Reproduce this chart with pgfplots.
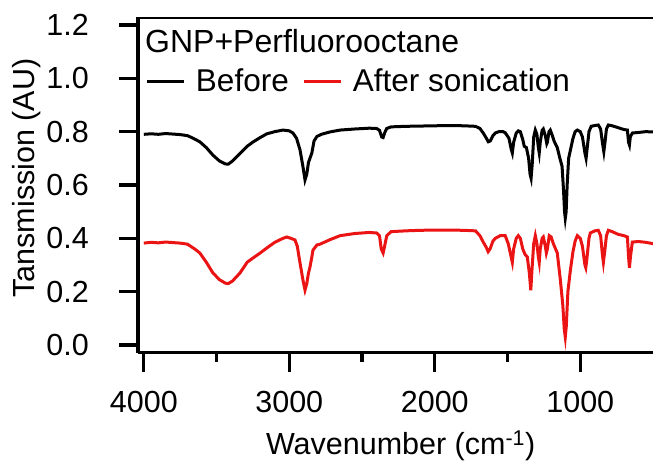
\documentclass[border=0pt]{standalone}
\usepackage{fontspec}
\setmainfont{Liberation Sans}
\usepackage{pgfplots}
\pgfplotsset{compat=1.18}
\definecolor{spred}{RGB}{235,20,20}
\begin{document}
\fontsize{30.5}{36}\selectfont
\begin{tikzpicture}
\begin{axis}[
  at={(138pt,-352.7pt)}, anchor=south west,
  scale only axis, width=515pt, height=335.7pt,
  x dir=reverse, xmin=500, xmax=4040, ymin=-0.029, ymax=1.23,
  axis lines*=left, axis line style={-, line width=3.3pt},
  tick align=outside, tick pos=left,
  xtick={1000,2000,3000,4000}, minor x tick num=1,
  ytick={0,0.2,0.4,0.6,0.8,1.0,1.2},
  major tick length=19pt, minor tick length=9pt,
  major tick style={line width=3.3pt, black},
  minor tick style={line width=3.3pt, black},
  /pgf/number format/assume math mode=true,
  x tick label style={/pgf/number format/set thousands separator={}, anchor=base, inner sep=0pt, yshift=-41pt},
  y tick label style={/pgf/number format/fixed, /pgf/number format/fixed zerofill, /pgf/number format/precision=1, anchor=east, inner sep=0pt, xshift=-30pt},
  xlabel={Wavenumber (cm\textsuperscript{-1})},
  ylabel={Tansmission (AU)},
  xlabel style={at={(axis description cs:0.51,-0.3047)}, anchor=base, inner sep=0pt},
  ylabel style={at={(axis description cs:-0.2,0.52)}, anchor=base, inner sep=0pt},
  legend columns=2,
  legend style={draw=none, fill=none, at={(axis description cs:0.0155,0.8064)}, anchor=west, inner sep=0pt, outer sep=0pt, nodes={inner sep=0pt}, font=\fontsize{31.5}{38}\selectfont,
    /tikz/every odd column/.append style={column sep=10pt},
    /tikz/every even column/.append style={column sep=14pt}},
  legend image code/.code={\draw[#1, line width=3pt] (0pt,0pt) -- (37pt,0pt);},
]
\addplot[black, line width=3pt] coordinates {
(4000,0.790) (3950,0.792) (3900,0.790) (3850,0.793) (3800,0.791) (3750,0.789) (3700,0.785) (3660,0.775) (3615,0.762) (3570,0.740) (3525,0.712) (3480,0.690) (3440,0.679) (3420,0.678) (3390,0.690) (3339,0.718) (3290,0.745) (3250,0.761) (3200,0.778) (3154,0.792) (3100,0.800) (3043,0.806) (3000,0.803) (2975,0.795) (2950,0.775) (2926,0.731) (2905,0.665) (2892,0.619) (2880,0.640) (2868,0.685) (2858,0.700) (2845,0.720) (2830,0.765) (2810,0.782) (2780,0.790) (2720,0.799) (2650,0.806) (2550,0.810) (2450,0.813) (2400,0.812) (2380,0.805) (2365,0.780) (2355,0.778) (2345,0.795) (2330,0.812) (2300,0.818) (2200,0.820) (2100,0.821) (2000,0.822) (1900,0.823) (1800,0.822) (1720,0.820) (1690,0.812) (1667,0.795) (1645,0.775) (1632,0.762) (1619,0.765) (1600,0.785) (1584,0.795) (1560,0.800) (1530,0.800) (1516,0.796) (1490,0.775) (1475,0.735) (1467,0.720) (1458,0.760) (1440,0.795) (1426,0.803) (1412,0.800) (1395,0.770) (1385,0.745) (1370,0.740) (1355,0.700) (1345,0.640) (1338,0.625) (1330,0.680) (1320,0.780) (1309,0.806) (1298,0.790) (1288,0.740) (1282,0.720) (1275,0.760) (1262,0.805) (1254,0.810) (1240,0.785) (1230,0.755) (1226,0.760) (1215,0.800) (1206,0.806) (1195,0.790) (1180,0.765) (1158,0.740) (1140,0.700) (1125,0.670) (1115,0.580) (1108,0.500) (1103,0.475) (1097,0.500) (1090,0.600) (1080,0.700) (1068,0.730) (1050,0.775) (1035,0.800) (1020,0.806) (1000,0.800) (985,0.780) (968,0.720) (960,0.700) (952,0.740) (940,0.800) (925,0.820) (900,0.823) (876,0.825) (860,0.810) (848,0.760) (838,0.725) (830,0.760) (820,0.810) (807,0.825) (780,0.822) (740,0.815) (700,0.808) (676,0.806) (668,0.760) (662,0.750) (656,0.780) (642,0.795) (600,0.797) (550,0.800) (500,0.799)
};
\addlegendentry{Before}
\addplot[spred, line width=3pt] coordinates {
(4000,0.382) (3950,0.385) (3900,0.383) (3850,0.386) (3800,0.384) (3750,0.382) (3700,0.378) (3650,0.360) (3615,0.345) (3570,0.310) (3525,0.270) (3480,0.245) (3440,0.232) (3420,0.230) (3390,0.240) (3339,0.270) (3290,0.310) (3250,0.326) (3200,0.345) (3154,0.364) (3100,0.385) (3043,0.400) (3016,0.405) (2990,0.400) (2961,0.394) (2945,0.370) (2926,0.307) (2905,0.240) (2892,0.206) (2880,0.230) (2868,0.270) (2858,0.292) (2845,0.330) (2837,0.356) (2810,0.375) (2789,0.378) (2720,0.395) (2650,0.410) (2550,0.418) (2450,0.422) (2400,0.420) (2380,0.410) (2368,0.360) (2355,0.345) (2345,0.370) (2330,0.410) (2300,0.425) (2200,0.428) (2100,0.430) (2000,0.431) (1900,0.431) (1800,0.430) (1720,0.428) (1690,0.410) (1667,0.386) (1645,0.365) (1633,0.350) (1620,0.360) (1600,0.390) (1584,0.400) (1550,0.410) (1516,0.410) (1495,0.380) (1475,0.330) (1467,0.310) (1458,0.360) (1440,0.400) (1426,0.410) (1412,0.400) (1395,0.360) (1380,0.340) (1364,0.330) (1350,0.270) (1340,0.205) (1332,0.280) (1320,0.380) (1309,0.410) (1298,0.380) (1288,0.330) (1282,0.310) (1275,0.360) (1262,0.400) (1254,0.405) (1240,0.370) (1233,0.345) (1226,0.360) (1213,0.410) (1200,0.405) (1185,0.380) (1158,0.345) (1137,0.245) (1120,0.150) (1110,0.060) (1103,0.030) (1096,0.070) (1085,0.200) (1068,0.280) (1050,0.350) (1035,0.390) (1020,0.410) (1000,0.400) (985,0.370) (968,0.300) (962,0.290) (955,0.320) (940,0.400) (931,0.420) (900,0.428) (876,0.430) (860,0.410) (848,0.340) (841,0.310) (832,0.350) (820,0.410) (807,0.430) (780,0.425) (740,0.415) (700,0.410) (676,0.405) (668,0.330) (662,0.290) (655,0.330) (642,0.386) (600,0.388) (550,0.385) (500,0.380)
};
\addlegendentry{After sonication}
\draw[line width=3.3pt] (rel axis cs:0,1) -- (rel axis cs:1,1);
\node[anchor=base west, inner sep=0pt, font=\fontsize{32}{38}\selectfont] at (axis description cs:0.0136,0.8928) {GNP+Perfluorooctane};
\end{axis}
\pgfresetboundingbox
\useasboundingbox (0pt,-466pt) rectangle (653pt,0pt);
\end{tikzpicture}
\end{document}
